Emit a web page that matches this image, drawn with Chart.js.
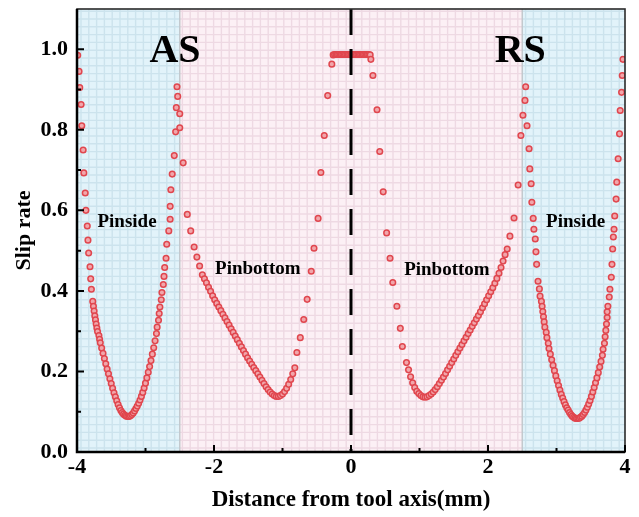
<!DOCTYPE html>
<html>
<head>
<meta charset="utf-8">
<title>Slip rate</title>
<script src="https://cdn.jsdelivr.net/npm/chart.js@4.4.1/dist/chart.umd.min.js"></script>
<style>
  html, body { margin: 0; padding: 0; background: #fff; }
  #wrap { width: 639px; height: 517px; position: relative; }
</style>
</head>
<body>
<div id="wrap"><canvas id="slipChart"></canvas></div>
<script>
// --- Slip rate along the tool, split by section (AS side -> RS side) ---
const asSideX = [-3.99, -3.97, -3.96, -3.94, -3.93, -3.91, -3.90, -3.88, -3.87, -3.85, -3.84, -3.83, -3.81, -3.80, -3.79,
  -3.77, -3.76, -3.75, -3.74, -3.73, -3.72, -3.71, -3.70, -3.68, -3.67, -3.66, -3.64, -3.62, -3.60, -3.58, -3.56, -3.54,
  -3.52, -3.50, -3.48, -3.46, -3.44, -3.42, -3.40, -3.38, -3.36, -3.34, -3.32, -3.30, -3.28, -3.26,
  -3.24, -3.22, -3.20, -3.18, -3.16, -3.14, -3.12, -3.10, -3.08, -3.06, -3.04, -3.02, -3.00, -2.98, -2.96, -2.94, -2.92,
  -2.90, -2.88, -2.86, -2.84, -2.83, -2.81, -2.80, -2.79, -2.77, -2.76, -2.74, -2.73, -2.72, -2.70, -2.69, -2.66, -2.64,
  -2.64, -2.63, -2.61, -2.58, -2.56, -2.55, -2.53, -2.54];
const asSideY = [0.985, 0.945, 0.905, 0.863, 0.810, 0.750, 0.693, 0.643, 0.600, 0.561, 0.526, 0.494, 0.460, 0.430, 0.404,
  0.374, 0.362, 0.350, 0.338, 0.328, 0.318, 0.308, 0.299, 0.289, 0.280, 0.271, 0.258, 0.245, 0.232, 0.219, 0.206, 0.194,
  0.182, 0.170, 0.158, 0.147, 0.137, 0.127, 0.118, 0.110, 0.103, 0.098, 0.094, 0.091, 0.089, 0.088,
  0.088, 0.090, 0.093, 0.097, 0.102, 0.108, 0.114, 0.121, 0.129, 0.138, 0.148, 0.159, 0.171, 0.184, 0.198, 0.212, 0.227,
  0.243, 0.259, 0.276, 0.294, 0.310, 0.327, 0.344, 0.360, 0.378, 0.396, 0.416, 0.436, 0.458, 0.481, 0.516, 0.549, 0.578,
  0.610, 0.651, 0.690, 0.736, 0.795, 0.855, 0.883, 0.907];

const asBottomX = [-2.50, -2.50, -2.45, -2.39, -2.34, -2.29, -2.25, -2.21, -2.17, -2.14, -2.11, -2.08, -2.05, -2.02, -1.99,
  -1.96, -1.93, -1.90, -1.87, -1.84, -1.81, -1.78, -1.75, -1.72, -1.69, -1.66, -1.63, -1.60, -1.57, -1.54, -1.51, -1.48,
  -1.45, -1.42, -1.39, -1.36, -1.33, -1.30, -1.27, -1.24, -1.21, -1.18, -1.15, -1.12, -1.09, -1.06, -1.03, -1.00, -0.97,
  -0.94, -0.91, -0.88, -0.85, -0.82, -0.79, -0.74, -0.69, -0.64, -0.58, -0.54, -0.48, -0.44, -0.39, -0.34, -0.28];
const asBottomY = [0.840, 0.805, 0.718, 0.590, 0.549, 0.509, 0.484, 0.462, 0.440, 0.430, 0.420, 0.409, 0.399, 0.388, 0.378,
  0.369, 0.360, 0.351, 0.342, 0.333, 0.324, 0.315, 0.306, 0.297, 0.288, 0.279, 0.270, 0.261, 0.252, 0.243, 0.234, 0.226,
  0.218, 0.210, 0.202, 0.194, 0.186, 0.178, 0.170, 0.162, 0.155, 0.149, 0.144, 0.140, 0.138, 0.138, 0.140, 0.144, 0.150,
  0.158, 0.168, 0.180, 0.194, 0.209, 0.247, 0.284, 0.329, 0.379, 0.449, 0.506, 0.580, 0.694, 0.786, 0.885, 0.963];

const topX = [-0.26, -0.24, -0.22, -0.20, -0.18, -0.16, -0.14, -0.12, -0.10, -0.08, -0.06, -0.04, -0.02, 0.00,
  0.02, 0.04, 0.06, 0.08, 0.10, 0.12, 0.14, 0.16, 0.18, 0.20, 0.22, 0.24, 0.26, 0.28];
const topY = [0.986, 0.987, 0.987, 0.987, 0.987, 0.987, 0.987, 0.987, 0.987, 0.987, 0.987, 0.987, 0.987, 0.987,
  0.987, 0.987, 0.987, 0.987, 0.987, 0.987, 0.987, 0.987, 0.987, 0.987, 0.987, 0.987, 0.987, 0.986];

const rsBottomX = [0.29, 0.32, 0.38, 0.42, 0.47, 0.52, 0.57, 0.61, 0.67, 0.72, 0.75, 0.81, 0.84, 0.87, 0.90, 0.93, 0.96,
  0.99, 1.02, 1.05, 1.08, 1.11, 1.14, 1.17, 1.20, 1.23, 1.26, 1.29, 1.32, 1.35, 1.38, 1.41, 1.44, 1.47, 1.50, 1.53, 1.56,
  1.59, 1.62, 1.65, 1.68, 1.71, 1.74, 1.77, 1.80, 1.83, 1.86, 1.89, 1.92, 1.95, 1.98, 2.01, 2.04, 2.07, 2.10, 2.13, 2.16,
  2.19, 2.22, 2.25, 2.28, 2.32, 2.38, 2.44, 2.48, 2.51];
const rsBottomY = [0.975, 0.935, 0.850, 0.746, 0.646, 0.544, 0.481, 0.421, 0.362, 0.307, 0.262, 0.222, 0.204, 0.187, 0.172,
  0.160, 0.151, 0.145, 0.140, 0.137, 0.136, 0.137, 0.140, 0.144, 0.149, 0.155, 0.162, 0.170, 0.178, 0.186, 0.195, 0.204,
  0.213, 0.222, 0.231, 0.240, 0.249, 0.258, 0.267, 0.276, 0.285, 0.294, 0.303, 0.312, 0.321, 0.330, 0.339, 0.348, 0.358,
  0.368, 0.378, 0.388, 0.398, 0.408, 0.419, 0.431, 0.444, 0.458, 0.474, 0.490, 0.504, 0.536, 0.581, 0.663, 0.786, 0.836];

const rsSideX = [2.55, 2.54, 2.57, 2.60, 2.61, 2.63, 2.64, 2.66, 2.67, 2.69, 2.70, 2.71, 2.73, 2.75, 2.76, 2.78, 2.79,
  2.80, 2.81, 2.82, 2.83, 2.85, 2.86, 2.88, 2.89, 2.91, 2.93, 2.95, 2.97, 2.99, 3.01, 3.03, 3.05, 3.07, 3.09, 3.11, 3.13,
  3.15, 3.17, 3.19, 3.21, 3.23, 3.25, 3.27, 3.29, 3.31, 3.33, 3.35, 3.37, 3.39, 3.41, 3.43, 3.45, 3.47, 3.49, 3.51, 3.53,
  3.55, 3.57, 3.59, 3.61, 3.63, 3.65, 3.67, 3.68, 3.70, 3.71, 3.72, 3.73, 3.74, 3.74, 3.75, 3.77, 3.78, 3.80, 3.81, 3.82,
  3.83, 3.84, 3.85, 3.87, 3.88, 3.90, 3.92, 3.93, 3.95, 3.96, 3.97];
const rsSideY = [0.907, 0.873, 0.810, 0.753, 0.703, 0.666, 0.620, 0.580, 0.553, 0.529, 0.497, 0.466, 0.424, 0.405, 0.387,
  0.374, 0.362, 0.349, 0.336, 0.323, 0.310, 0.297, 0.284, 0.270, 0.257, 0.243, 0.229, 0.215, 0.202, 0.189, 0.177, 0.165,
  0.154, 0.143, 0.134, 0.125, 0.117, 0.110, 0.104, 0.098, 0.093, 0.089, 0.086, 0.084, 0.083, 0.083, 0.084, 0.086, 0.089,
  0.093, 0.098, 0.104, 0.111, 0.119, 0.128, 0.138, 0.149, 0.160, 0.172, 0.184, 0.197, 0.211, 0.225, 0.240, 0.255, 0.270,
  0.286, 0.302, 0.318, 0.334, 0.348, 0.362, 0.385, 0.404, 0.434, 0.466, 0.504, 0.534, 0.553, 0.586, 0.628, 0.670, 0.728,
  0.790, 0.848, 0.893, 0.935, 0.975];

const xTicks = [-4, -2, 0, 2, 4];
const xMinorTicks = [-3, -1, 1, 3];
const yTicks = [0.0, 0.2, 0.4, 0.6, 0.8, 1.0];
const yMinorTicks = [0.1, 0.3, 0.5, 0.7, 0.9];

// section borders along x: Pinside | Pinbottom | Pinside
const zoneEdges = [-4, -2.5, 2.5, 4];

const serif = "'Liberation Serif', 'Times New Roman', serif";

function toPoints(xs, ys) {
    return xs.map((x, i) => ({ x: x, y: ys[i] }));
}

const slipPoints = [].concat(
    toPoints(asSideX, asSideY),
    toPoints(asBottomX, asBottomY),
    toPoints(topX, topY),
    toPoints(rsBottomX, rsBottomY),
    toPoints(rsSideX, rsSideY)
);

// --- background: tinted zones with a fine square mesh ---
const zoneColors = [
    { fill: '#e2f3fa', line: '#cce3ed' },
    { fill: '#fcf0f5', line: '#eed9e3' },
    { fill: '#e2f3fa', line: '#cce3ed' }
];

const backdrop = {
    id: 'backdrop',
    beforeDatasetsDraw(chart) {
        const { ctx, chartArea: a, scales: { x } } = chart;
        ctx.save();
        for (let i = 0; i < zoneEdges.length - 1; i++) {
            const x0 = x.getPixelForValue(zoneEdges[i]);
            const x1 = x.getPixelForValue(zoneEdges[i + 1]);
            ctx.save();
            ctx.beginPath();
            ctx.rect(x0, a.top, x1 - x0, a.bottom - a.top);
            ctx.clip();
            ctx.fillStyle = zoneColors[i].fill;
            ctx.fillRect(x0, a.top, x1 - x0, a.bottom - a.top);
            ctx.strokeStyle = zoneColors[i].line;
            ctx.lineWidth = 1.4;
            ctx.beginPath();
            for (let gx = a.left + 4; gx < a.right; gx += 7.8) {
                ctx.moveTo(gx, a.top);
                ctx.lineTo(gx, a.bottom);
            }
            for (let gy = a.bottom - 4; gy > a.top; gy -= 7.8) {
                ctx.moveTo(a.left, gy);
                ctx.lineTo(a.right, gy);
            }
            ctx.stroke();
            ctx.restore();
        }
        ctx.strokeStyle = '#c3c9ce';
        ctx.lineWidth = 1.5;
        [zoneEdges[1], zoneEdges[2]].forEach(v => {
            const px = x.getPixelForValue(v);
            ctx.beginPath();
            ctx.moveTo(px, a.top);
            ctx.lineTo(px, a.bottom);
            ctx.stroke();
        });
        ctx.restore();
    }
};

// --- foreground: tool axis, frame, inward ticks and section names ---
const sectionLabels = [
    { text: 'AS', x: -2.57, y: 0.993, size: 40 },
    { text: 'RS', x: 2.47, y: 0.993, size: 40 },
    { text: 'Pinside', x: -3.27, y: 0.571, size: 19 },
    { text: 'Pinbottom', x: -1.36, y: 0.454, size: 19 },
    { text: 'Pinbottom', x: 1.40, y: 0.451, size: 19 },
    { text: 'Pinside', x: 3.28, y: 0.571, size: 19 }
];

const overlay = {
    id: 'overlay',
    afterDatasetsDraw(chart) {
        const { ctx, chartArea: a, scales: { x, y } } = chart;
        ctx.save();

        // dashed line at the tool axis
        const cx = x.getPixelForValue(0);
        ctx.strokeStyle = '#000';
        ctx.lineWidth = 3;
        ctx.setLineDash([26, 14]);
        ctx.beginPath();
        ctx.moveTo(cx, a.top);
        ctx.lineTo(cx, a.bottom);
        ctx.stroke();
        ctx.setLineDash([]);

        // frame
        ctx.strokeStyle = '#2a2a2a';
        ctx.lineWidth = 1.6;
        ctx.strokeRect(a.left, a.top, a.right - a.left, a.bottom - a.top);
        ctx.strokeStyle = '#000';
        ctx.lineWidth = 2.5;
        ctx.beginPath();
        ctx.moveTo(a.left, a.top);
        ctx.lineTo(a.left, a.bottom);
        ctx.lineTo(a.right, a.bottom);
        ctx.stroke();

        // ticks pointing into the plot
        ctx.lineWidth = 2;
        ctx.beginPath();
        xTicks.forEach(v => { const p = x.getPixelForValue(v); ctx.moveTo(p, a.bottom); ctx.lineTo(p, a.bottom - 7); });
        xMinorTicks.forEach(v => { const p = x.getPixelForValue(v); ctx.moveTo(p, a.bottom); ctx.lineTo(p, a.bottom - 4); });
        yTicks.forEach(v => { const p = y.getPixelForValue(v); ctx.moveTo(a.left, p); ctx.lineTo(a.left + 7, p); });
        yMinorTicks.forEach(v => { const p = y.getPixelForValue(v); ctx.moveTo(a.left, p); ctx.lineTo(a.left + 4, p); });
        ctx.stroke();

        ctx.fillStyle = '#000';
        ctx.textAlign = 'center';
        ctx.textBaseline = 'middle';
        sectionLabels.forEach(l => {
            ctx.font = `bold ${l.size}px ${serif}`;
            ctx.fillText(l.text, x.getPixelForValue(l.x), y.getPixelForValue(l.y));
        });
        ctx.restore();
    }
};

new Chart(document.getElementById('slipChart'), {
    type: 'scatter',
    data: {
        datasets: [{
            label: 'Slip rate',
            data: slipPoints,
            showLine: false,
            pointStyle: 'circle',
            pointRadius: 2.8,
            pointBorderWidth: 1.5,
            pointBorderColor: '#e0464e',
            pointBackgroundColor: '#f1a6ab'
        }]
    },
    options: {
        responsive: true,
        maintainAspectRatio: false,
        animation: false,
        layout: { padding: { top: 9, right: 14, left: 0, bottom: 0 } },
        plugins: {
            legend: { display: false },
            tooltip: { enabled: false }
        },
        scales: {
            x: {
                type: 'linear',
                min: -4,
                max: 4,
                grid: { display: false, drawTicks: false },
                border: { display: false },
                afterBuildTicks: s => { s.ticks = xTicks.map(v => ({ value: v })); },
                afterFit: s => { s.height = 65; s.paddingLeft = 0; s.paddingRight = 0; },
                ticks: {
                    padding: 2,
                    color: '#000',
                    maxRotation: 0,
                    autoSkip: false,
                    font: { family: serif, size: 22, weight: 'bold' },
                    callback: v => String(v)
                },
                title: {
                    display: true,
                    text: 'Distance from tool axis(mm)',
                    color: '#000',
                    font: { family: serif, size: 23, weight: 'bold' },
                    padding: { top: 0, bottom: 3 }
                }
            },
            y: {
                type: 'linear',
                min: 0,
                max: 1.1,
                grid: { display: false, drawTicks: false },
                border: { display: false },
                afterBuildTicks: s => { s.ticks = yTicks.map(v => ({ value: v })); },
                afterFit: s => { s.width = 77; s.paddingTop = 0; s.paddingBottom = 0; },
                ticks: {
                    padding: 9,
                    color: '#000',
                    font: { family: serif, size: 22, weight: 'bold' },
                    callback: v => v.toFixed(1)
                },
                title: {
                    display: true,
                    text: 'Slip rate',
                    color: '#000',
                    font: { family: serif, size: 22, weight: 'bold' },
                    padding: { top: 11, bottom: 0 }
                }
            }
        }
    },
    plugins: [backdrop, overlay]
});
</script>
</body>
</html>
